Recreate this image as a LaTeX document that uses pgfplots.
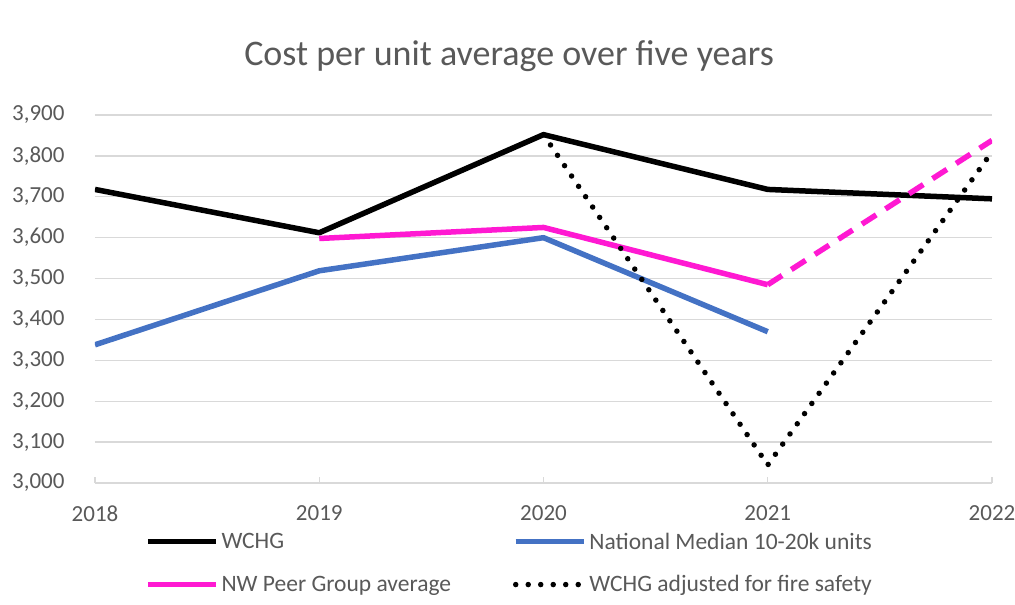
\documentclass[border=0pt]{standalone}
\usepackage{fontspec}
\setmainfont{Carlito}
\usepackage{pgfplots}
\pgfplotsset{compat=1.18}
\definecolor{txt}{HTML}{595959}
\definecolor{grd}{HTML}{D9D9D9}
\definecolor{nblue}{HTML}{4472C4}
\definecolor{pinkc}{HTML}{FF19D2}
\begin{document}
\begin{tikzpicture}
\useasboundingbox (0pt,0pt) rectangle (1015pt,605pt);
\node[font=\fontsize{36}{40}\selectfont, text=txt] at (509pt,549pt) {Cost per unit average over five years};
\begin{axis}[
  at={(95pt,122pt)}, anchor=south west, scale only axis,
  width=897pt, height=368pt,
  xmin=2018, xmax=2022, ymin=3000, ymax=3900,
  xtick={2018,2019,2020,2021,2022}, ytick={3000,3100,...,3900},
  axis line style={draw=none},
  ymajorgrids, grid style={grd, line width=1.3pt},
  tick align=inside, xtick pos=bottom, ytick style={draw=none},
  xtick style={grd, line width=1.3pt}, major tick length=6pt,
  ticklabel style={font=\fontsize{23}{27}\selectfont, text=txt},
  /pgf/number format/assume math mode=true,
  xticklabel style={/pgf/number format/1000 sep={}, yshift=-19pt},
  yticklabel style={/pgf/number format/1000 sep={,}, xshift=-27pt},
  legend columns=2, legend cell align=left,
  legend style={at={(0.0522,-0.124)}, anchor=north west, draw=none, fill=none,
    font=\fontsize{23.5}{27}\selectfont, text=txt, row sep=21pt,
    /tikz/every even column/.append style={column sep=60pt},
    /tikz/every odd column/.append style={column sep=1pt}},
  legend image code/.code={\draw[#1] (0pt,0pt) -- (68pt,0pt);},
  every axis plot/.append style={line width=5.5pt, line join=round},
]
\addplot[black] coordinates {(2018,3718) (2019,3612) (2020,3852) (2021,3718) (2022,3695)};
\addlegendentry{WCHG}
\addplot[nblue] coordinates {(2018,3338) (2019,3519) (2020,3600) (2021,3370)};
\addlegendentry{National Median 10-20k units}
\addplot[pinkc] coordinates {(2019,3598) (2020,3625) (2021,3485)};
\addlegendentry{NW Peer Group average}
\addplot[black, line width=5.5pt, line cap=round, dash pattern=on 0pt off 12.5pt] coordinates {(2020,3852) (2021,3044) (2022,3810)};
\addlegendentry{WCHG adjusted for fire safety}
\addplot[pinkc, dash pattern=on 17pt off 11pt, forget plot] coordinates {(2021,3485) (2022,3838)};
\end{axis}
\end{tikzpicture}
\end{document}
